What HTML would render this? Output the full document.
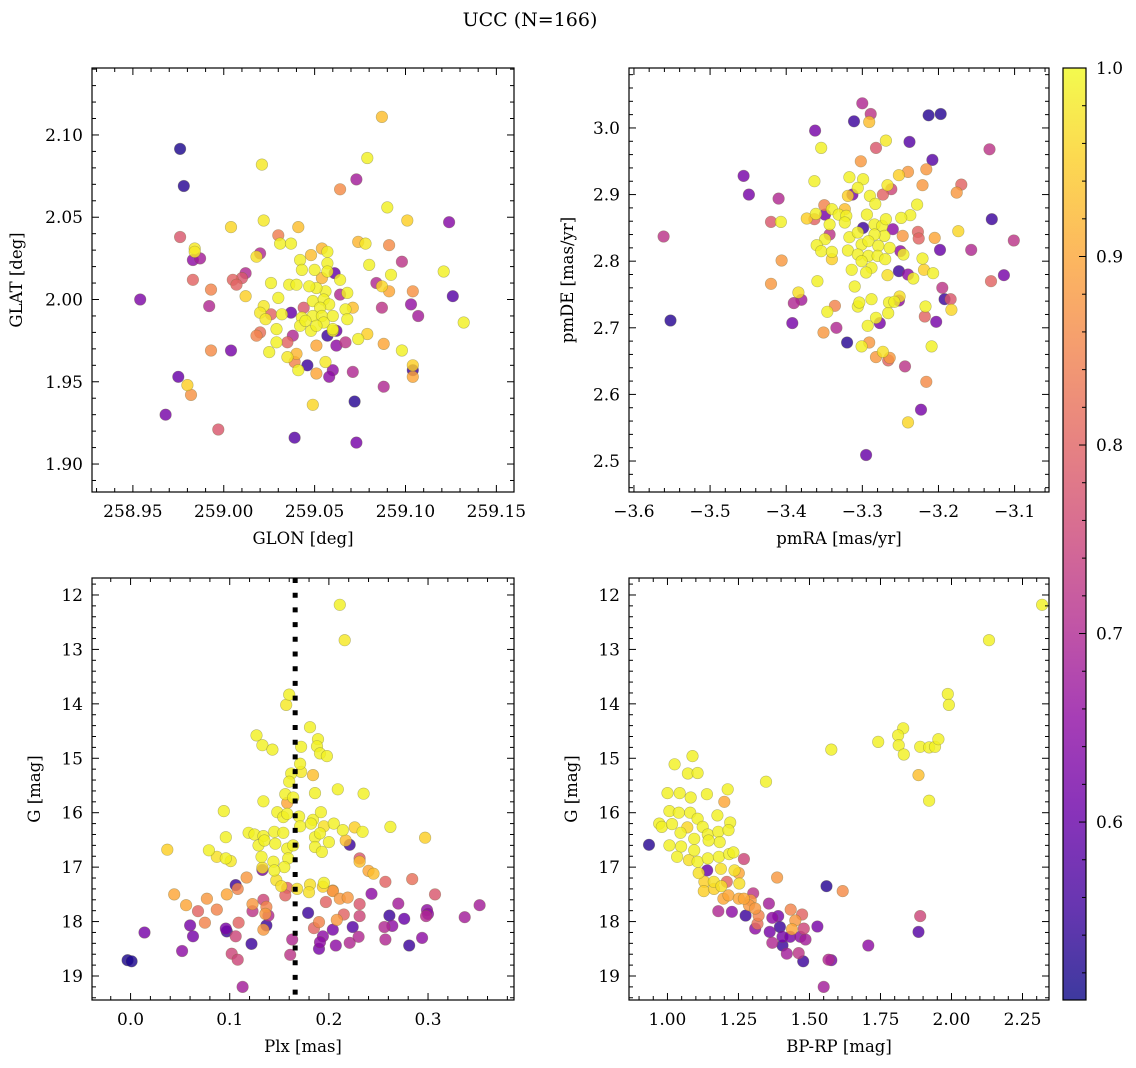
<!DOCTYPE html>
<html><head><meta charset="utf-8"><style>
html,body{margin:0;padding:0;background:#fff;}
svg{display:block;}
text{font-family:"DejaVu Serif","Liberation Serif",serif;fill:#000;}
</style></head><body>
<svg id="fig" xmlns="http://www.w3.org/2000/svg" width="1136" height="1068" viewBox="0 0 1136 1068">
<defs>
<linearGradient id="cbgrad" x1="0" y1="1" x2="0" y2="0">
<stop offset="0" stop-color="#0d0887"/><stop offset="0.1" stop-color="#41049d"/><stop offset="0.2" stop-color="#6a00a8"/><stop offset="0.3" stop-color="#8f0da4"/><stop offset="0.4" stop-color="#b12a90"/><stop offset="0.5" stop-color="#cc4778"/><stop offset="0.6" stop-color="#e16462"/><stop offset="0.7" stop-color="#f2844b"/><stop offset="0.8" stop-color="#fca636"/><stop offset="0.9" stop-color="#fcce25"/><stop offset="1" stop-color="#f0f921"/>
</linearGradient>
</defs>
<text x="530" y="26" text-anchor="middle" font-size="19">UCC (N=166)</text>
</svg>
<script>
// ---------- Panel 1: GLON / GLAT ----------
const glon1 = [259.087,258.976,258.978,259.021,259.079,259.073,259.064,259.090,259.101,259.124,259.004,259.022,259.041,258.976,259.030,259.031,259.037,259.074,259.078,259.091,258.984,258.984,258.983,258.987,259.020,259.018,259.098,259.121,259.080,259.092,258.983,259.005,259.007,259.012,259.010,258.993,259.012,259.026,259.030,259.036,259.040,258.954,258.992,259.084,259.087,259.091,259.104,259.126,259.132,259.087,259.103,259.107,259.022,259.020,259.026,259.023,259.032,259.037,259.044,259.043,259.029,259.018,259.020,259.029,259.025,259.035,259.038,259.042,259.048,259.040,259.035,259.039,259.041,259.046,259.051,259.051,259.057,259.062,259.060,259.062,259.067,259.074,259.079,259.088,259.098,259.056,259.060,259.058,259.071,259.088,259.104,259.104,259.104,258.975,258.980,258.982,258.993,259.004,258.968,258.997,259.039,259.049,259.072,259.073,259.042,259.048,259.054,259.057,259.057,259.057,259.050,259.043,259.054,259.061,259.064,259.068,259.064,259.056,259.051,259.047,259.049,259.055,259.058,259.053,259.049,259.054,259.060,259.067,259.071,259.068,259.060,259.055,259.051,259.045];
const glat1 = [2.111,2.0915,2.069,2.082,2.086,2.073,2.067,2.056,2.048,2.047,2.044,2.048,2.044,2.038,2.039,2.034,2.034,2.035,2.034,2.033,2.031,2.029,2.024,2.025,2.028,2.026,2.023,2.017,2.021,2.015,2.012,2.012,2.009,2.016,2.013,2.006,2.002,2.010,2.001,2.009,2.009,2.000,1.996,2.010,2.008,2.005,2.005,2.002,1.986,1.995,1.997,1.990,1.996,1.992,1.991,1.988,1.991,1.992,1.995,1.989,1.982,1.978,1.980,1.974,1.968,1.974,1.978,1.984,1.981,1.967,1.965,1.962,1.957,1.960,1.972,1.955,1.978,1.981,1.981,1.972,1.974,1.976,1.979,1.973,1.969,1.962,1.957,1.953,1.956,1.947,1.960,1.953,1.957,1.953,1.948,1.942,1.969,1.969,1.930,1.921,1.916,1.936,1.938,1.913,2.024,2.027,2.031,2.029,2.022,2.017,2.018,2.018,2.013,2.016,2.012,2.004,2.003,2.005,2.007,2.008,1.999,2.000,1.997,1.995,1.990,1.990,1.990,1.994,1.995,1.988,1.982,1.986,1.984,1.987];
const prob1 = [0.93,0.52,0.53,0.98,0.99,0.68,0.86,0.99,0.95,0.64,0.96,0.98,0.93,0.78,0.84,0.99,0.99,0.92,0.98,0.86,0.98,0.98,0.65,0.68,0.70,0.97,0.72,0.99,0.99,0.99,0.80,0.80,0.80,0.70,0.78,0.85,0.95,0.99,0.99,0.99,0.99,0.63,0.70,0.70,0.96,0.90,0.87,0.58,0.99,0.72,0.66,0.68,0.98,0.98,0.80,0.98,0.99,0.60,0.78,0.99,0.99,0.85,0.82,0.99,0.99,0.80,0.70,0.99,0.99,0.92,0.98,0.85,0.99,0.55,0.90,0.90,0.55,0.60,0.99,0.65,0.72,0.99,0.95,0.90,0.99,0.98,0.65,0.65,0.70,0.70,0.95,0.90,0.55,0.60,0.95,0.87,0.86,0.62,0.62,0.78,0.58,0.96,0.53,0.62,0.99,0.93,0.92,0.99,0.99,0.99,0.99,0.99,0.92,0.60,0.99,0.99,0.70,0.99,0.99,0.99,0.99,0.99,0.99,0.99,0.99,0.99,0.99,0.99,0.93,0.99,0.99,0.99,0.99,0.99];

// ---------- Panel 2: pmRA / pmDE ----------
const pmra2 = [-3.300,-3.289,-3.291,-3.311,-3.213,-3.197,-3.362,-3.354,-3.269,-3.282,-3.238,-3.133,-3.208,-3.302,-3.456,-3.449,-3.410,-3.363,-3.317,-3.299,-3.306,-3.319,-3.313,-3.290,-3.283,-3.267,-3.273,-3.262,-3.252,-3.240,-3.216,-3.221,-3.170,-3.176,-3.228,-3.237,-3.249,-3.130,-3.174,-3.101,-3.561,-3.420,-3.407,-3.373,-3.361,-3.363,-3.350,-3.340,-3.349,-3.331,-3.323,-3.321,-3.323,-3.343,-3.343,-3.349,-3.360,-3.354,-3.340,-3.340,-3.406,-3.420,-3.319,-3.317,-3.306,-3.299,-3.294,-3.284,-3.274,-3.269,-3.260,-3.271,-3.284,-3.301,-3.292,-3.279,-3.264,-3.306,-3.292,-3.280,-3.270,-3.301,-3.288,-3.314,-3.295,-3.250,-3.246,-3.247,-3.227,-3.226,-3.205,-3.198,-3.157,-3.221,-3.219,-3.207,-3.252,-3.240,-3.233,-3.267,-3.114,-3.131,-3.359,-3.310,-3.384,-3.390,-3.380,-3.336,-3.346,-3.306,-3.304,-3.288,-3.265,-3.258,-3.252,-3.251,-3.195,-3.192,-3.184,-3.183,-3.217,-3.218,-3.203,-3.266,-3.282,-3.277,-3.293,-3.392,-3.334,-3.351,-3.552,-3.320,-3.301,-3.291,-3.282,-3.273,-3.264,-3.266,-3.209,-3.244,-3.216,-3.223,-3.240,-3.295];
const pmde2 = [3.037,3.021,3.009,3.010,3.019,3.021,2.996,2.970,2.981,2.970,2.979,2.968,2.952,2.950,2.928,2.900,2.894,2.920,2.926,2.923,2.910,2.898,2.900,2.898,2.886,2.914,2.900,2.908,2.929,2.934,2.938,2.914,2.915,2.903,2.885,2.869,2.865,2.863,2.845,2.831,2.837,2.859,2.859,2.864,2.871,2.863,2.884,2.878,2.870,2.870,2.878,2.868,2.858,2.855,2.840,2.833,2.824,2.815,2.814,2.803,2.801,2.766,2.816,2.836,2.843,2.850,2.870,2.855,2.853,2.863,2.848,2.838,2.840,2.825,2.830,2.823,2.820,2.810,2.808,2.808,2.803,2.800,2.790,2.787,2.783,2.815,2.810,2.838,2.844,2.834,2.835,2.817,2.817,2.804,2.787,2.782,2.785,2.780,2.774,2.779,2.779,2.770,2.770,2.762,2.753,2.737,2.742,2.733,2.724,2.732,2.738,2.743,2.738,2.739,2.741,2.747,2.760,2.743,2.743,2.727,2.732,2.717,2.709,2.722,2.715,2.707,2.703,2.707,2.700,2.693,2.711,2.678,2.672,2.678,2.656,2.664,2.655,2.651,2.672,2.642,2.619,2.577,2.558,2.509];
const prob2 = [0.70,0.72,0.93,0.55,0.53,0.53,0.62,0.99,0.98,0.78,0.58,0.72,0.58,0.88,0.62,0.62,0.70,0.99,0.99,0.99,0.99,0.95,0.62,0.99,0.99,0.98,0.80,0.75,0.95,0.88,0.88,0.88,0.80,0.88,0.99,0.99,0.99,0.55,0.96,0.72,0.72,0.78,0.99,0.95,0.99,0.80,0.85,0.99,0.62,0.99,0.93,0.99,0.99,0.99,0.72,0.99,0.99,0.99,0.99,0.95,0.88,0.88,0.99,0.99,0.99,0.55,0.99,0.99,0.99,0.99,0.65,0.99,0.99,0.99,0.99,0.99,0.99,0.99,0.99,0.99,0.99,0.99,0.99,0.99,0.99,0.65,0.99,0.88,0.80,0.80,0.90,0.60,0.70,0.99,0.95,0.99,0.55,0.65,0.99,0.97,0.62,0.80,0.99,0.99,0.97,0.70,0.68,0.85,0.99,0.99,0.99,0.99,0.99,0.99,0.65,0.97,0.72,0.55,0.78,0.96,0.99,0.80,0.62,0.99,0.99,0.62,0.99,0.62,0.70,0.88,0.53,0.53,0.99,0.88,0.88,0.97,0.88,0.80,0.99,0.72,0.86,0.62,0.96,0.60];

// ---------- Panel 3: Plx / G ----------
const plx3 = [0.211,0.216,0.160,0.157,0.181,0.127,0.133,0.143,0.172,0.189,0.188,0.191,0.198,0.171,0.172,0.162,0.160,0.184,0.209,0.235,0.186,0.156,0.164,0.158,0.134,0.094,0.148,0.154,0.158,0.170,0.171,0.184,0.192,0.182,0.195,0.205,0.214,0.226,0.234,0.262,0.297,0.037,0.096,0.079,0.087,0.096,0.101,0.119,0.125,0.134,0.129,0.135,0.145,0.154,0.146,0.158,0.164,0.159,0.132,0.144,0.155,0.145,0.133,0.133,0.186,0.191,0.200,0.186,0.193,0.217,0.221,0.231,0.231,0.240,0.245,0.147,0.152,0.158,0.168,0.181,0.180,0.195,0.194,0.204,0.106,0.108,0.117,0.044,0.056,0.077,0.097,0.068,0.087,0.075,0.123,0.134,0.137,0.123,0.136,0.139,0.156,0.197,0.204,0.211,0.219,0.231,0.243,0.257,0.284,0.307,0.270,0.352,0.337,0.299,0.298,0.261,0.276,0.264,0.256,0.231,0.215,0.208,0.190,0.185,0.179,0.204,0.224,0.194,0.191,0.190,0.207,0.221,0.230,0.257,0.281,0.294,0.300,0.163,0.161,0.109,0.096,0.097,0.106,0.122,0.102,0.108,0.113,0.060,0.063,0.014,0.052,-0.003,0.001,0.137,0.134];
const gmag3 = [12.18,12.83,13.83,14.02,14.43,14.58,14.76,14.84,14.79,14.65,14.78,14.91,14.96,15.10,15.25,15.28,15.43,15.31,15.57,15.65,15.64,15.66,15.72,15.82,15.79,15.97,15.99,16.08,16.02,16.07,16.25,16.13,15.99,16.20,16.25,16.20,16.32,16.27,16.35,16.26,16.46,16.68,16.45,16.69,16.81,16.84,16.89,16.37,16.40,16.43,16.60,16.51,16.35,16.37,16.57,16.66,16.60,16.84,16.81,16.90,17.00,17.06,17.05,17.01,16.45,16.38,16.54,16.63,16.72,16.51,16.59,16.84,16.90,17.07,17.12,17.24,17.35,17.38,17.40,17.32,17.46,17.29,17.36,17.43,17.33,17.40,17.19,17.50,17.70,17.58,17.50,17.81,17.78,18.02,17.68,17.60,17.73,17.81,17.86,17.89,17.52,17.64,17.44,17.58,17.56,17.68,17.49,17.27,17.22,17.50,17.67,17.70,17.92,17.79,17.90,17.89,17.95,18.08,18.10,17.90,17.87,17.97,18.01,18.12,17.84,18.15,18.10,18.27,18.38,18.50,18.44,18.39,18.28,18.33,18.44,18.30,17.86,18.33,18.61,18.02,18.13,18.18,18.27,18.41,18.59,18.70,19.20,18.07,18.27,18.20,18.54,18.71,18.73,18.07,18.15];
const prob3 = [0.99,0.98,0.99,0.98,0.99,0.99,0.99,0.99,0.99,0.99,0.99,0.99,0.99,0.99,0.98,0.99,0.99,0.93,0.99,0.99,0.99,0.99,0.99,0.90,0.99,0.99,0.99,0.99,0.99,0.99,0.99,0.99,0.99,0.99,0.97,0.99,0.99,0.95,0.99,0.99,0.95,0.95,0.99,0.99,0.97,0.99,0.98,0.99,0.99,0.99,0.99,0.99,0.99,0.99,0.99,0.99,0.99,0.99,0.99,0.99,0.99,0.99,0.62,0.97,0.99,0.99,0.99,0.99,0.99,0.93,0.55,0.78,0.93,0.90,0.93,0.97,0.97,0.80,0.97,0.97,0.97,0.99,0.95,0.88,0.55,0.85,0.88,0.90,0.90,0.88,0.90,0.80,0.85,0.85,0.88,0.75,0.85,0.72,0.88,0.70,0.80,0.80,0.88,0.88,0.88,0.78,0.65,0.80,0.82,0.78,0.68,0.68,0.68,0.65,0.70,0.55,0.60,0.65,0.70,0.75,0.80,0.88,0.85,0.80,0.55,0.62,0.58,0.65,0.65,0.62,0.65,0.70,0.70,0.70,0.55,0.65,0.65,0.70,0.72,0.80,0.62,0.55,0.75,0.55,0.75,0.75,0.68,0.62,0.62,0.62,0.65,0.52,0.52,0.55,0.88];

// ---------- Panel 4: BP-RP / G ----------
const bprp4 = [2.319,2.132,1.987,1.991,1.830,1.812,1.814,1.832,1.742,1.890,1.921,1.942,1.954,1.884,1.921,1.577,1.347,1.088,1.025,1.072,1.106,1.000,1.043,1.082,1.139,1.212,1.200,1.176,1.007,1.040,1.080,1.106,0.971,0.980,1.016,1.046,1.070,1.124,1.142,1.179,1.221,1.215,1.184,1.145,1.094,1.007,1.048,1.094,1.034,1.076,1.106,1.142,1.181,1.217,1.232,0.935,1.269,1.140,1.110,1.188,1.236,1.251,1.130,1.163,1.190,1.209,1.253,1.128,1.164,1.386,1.560,1.617,1.197,1.215,1.251,1.269,1.302,1.293,1.287,1.309,1.321,1.317,1.179,1.227,1.275,1.309,1.357,1.369,1.390,1.396,1.360,1.369,1.405,1.405,1.420,1.434,1.474,1.450,1.438,1.480,1.468,1.432,1.486,1.462,1.478,1.528,1.567,1.577,1.550,1.707,1.890,1.884];
const gmag4 = [12.18,12.83,13.82,14.02,14.45,14.58,14.76,14.93,14.70,14.79,14.80,14.79,14.65,15.31,15.78,14.84,15.43,14.96,15.11,15.28,15.27,15.64,15.64,15.72,15.66,15.57,15.80,16.05,15.97,16.00,16.00,16.11,16.20,16.26,16.21,16.37,16.27,16.26,16.40,16.35,16.18,16.32,16.54,16.51,16.48,16.60,16.62,16.69,16.81,16.87,16.90,16.84,16.81,16.76,16.73,16.59,16.85,17.06,17.11,17.03,17.06,17.11,17.27,17.27,17.35,17.27,17.30,17.44,17.40,17.19,17.35,17.44,17.58,17.52,17.58,17.58,17.48,17.61,17.70,17.76,17.89,18.04,17.81,17.82,17.89,18.13,17.67,17.93,17.90,18.10,18.19,18.39,18.28,18.44,18.59,17.78,17.87,17.98,18.14,18.13,18.28,18.28,18.33,18.58,18.73,18.09,18.70,18.71,19.20,18.44,17.90,18.19];
const prob4 = [0.99,0.99,0.99,0.99,0.99,0.99,0.99,0.99,0.99,0.99,0.99,0.99,0.99,0.93,0.99,0.99,0.99,0.99,0.99,0.99,0.99,0.99,0.99,0.99,0.99,0.99,0.90,0.99,0.99,0.99,0.99,0.99,0.99,0.99,0.99,0.99,0.96,0.99,0.99,0.99,0.99,0.99,0.99,0.99,0.99,0.99,0.99,0.99,0.99,0.97,0.99,0.99,0.99,0.99,0.99,0.53,0.75,0.60,0.97,0.97,0.97,0.90,0.95,0.97,0.97,0.80,0.97,0.95,0.95,0.88,0.53,0.86,0.90,0.90,0.90,0.90,0.72,0.88,0.88,0.88,0.85,0.82,0.70,0.65,0.55,0.65,0.68,0.65,0.62,0.55,0.62,0.70,0.62,0.55,0.68,0.85,0.80,0.88,0.90,0.75,0.65,0.62,0.68,0.72,0.55,0.62,0.70,0.62,0.68,0.65,0.75,0.58];

// ---------- shared config ----------
const plxRef = [0.166];
const cbTicks = [0.6, 0.7, 0.8, 0.9, 1.0];
const cbMin = 0.5056, cbMax = 1.0;

const NS = 'http://www.w3.org/2000/svg';
const svg = document.getElementById('fig');
const plasma = ['#0d0887','#41049d','#6a00a8','#8f0da4','#b12a90','#cc4778','#e16462','#f2844b','#fca636','#fcce25','#f0f921'];
function hex(h){return [parseInt(h.slice(1,3),16),parseInt(h.slice(3,5),16),parseInt(h.slice(5,7),16)];}
function cmap(p){
  let t=(p-cbMin)/(cbMax-cbMin); t=Math.max(0,Math.min(1,t));
  const f=t*10, i=Math.min(9,Math.floor(f)), r=f-i;
  const a=hex(plasma[i]), b=hex(plasma[i+1]);
  return 'rgb('+a.map((v,k)=>Math.round(v+(b[k]-v)*r)).join(',')+')';
}
function mk(tag, attrs, parent){
  const e=document.createElementNS(NS,tag);
  for(const k in attrs) e.setAttribute(k,attrs[k]);
  (parent||svg).appendChild(e); return e;
}
function fmt(v,d){return (v<0?'\u2212':'')+Math.abs(v).toFixed(d);}

function panel(o){
  const g=mk('g',{});
  
  
  const sx=v=>o.x0+(v-o.xmin)/(o.xmax-o.xmin)*(o.x1-o.x0);
  const syf = o.invert ? (v=>o.y0+(v-o.ymin)/(o.ymax-o.ymin)*(o.y1-o.y0)) : (v=>o.y1-(v-o.ymin)/(o.ymax-o.ymin)*(o.y1-o.y0));
  const idx=o.p.map((v,i)=>i).sort((a,b)=>o.p[a]-o.p[b]);
  const pg=mk('g',{},g);
  
  
  for(const i of idx){
    const c=mk('circle',{cx:sx(o.x[i]).toFixed(1),cy:syf(o.y[i]).toFixed(1),r:5.8,fill:cmap(o.p[i]),'fill-opacity':0.82,stroke:'#6b6b3a','stroke-opacity':0.45,'stroke-width':0.6},pg);
    
    
  }
  if(o.extra) o.extra(g,sx,syf);
  const fr=mk('rect',{x:o.x0,y:o.y0,width:o.x1-o.x0,height:o.y1-o.y0,fill:'none',stroke:'#000','stroke-width':1.2},g);
  
  
  const eps=1e-9;
  for(let v=Math.ceil(o.xmin/o.xminor-eps)*o.xminor; v<=o.xmax+eps; v+=o.xminor){
    const X=sx(v); const maj=Math.abs(v/o.xmajor-Math.round(v/o.xmajor))<1e-6; const L=maj?7:4;
    mk('line',{x1:X,x2:X,y1:o.y1,y2:o.y1-L,stroke:'#000','stroke-width':1},g);
    mk('line',{x1:X,x2:X,y1:o.y0,y2:o.y0+L,stroke:'#000','stroke-width':1},g);
    if(maj){const t=mk('text',{x:X,y:o.y1+25,'text-anchor':'middle','font-size':17},g);t.textContent=fmt(v,o.xdec);
      
      }
  }
  for(let v=Math.ceil(o.ymin/o.yminor-eps)*o.yminor; v<=o.ymax+eps; v+=o.yminor){
    const Y=syf(v); const maj=Math.abs(v/o.ymajor-Math.round(v/o.ymajor))<1e-6; const L=maj?7:4;
    mk('line',{x1:o.x0,x2:o.x0+L,y1:Y,y2:Y,stroke:'#000','stroke-width':1},g);
    mk('line',{x1:o.x1,x2:o.x1-L,y1:Y,y2:Y,stroke:'#000','stroke-width':1},g);
    if(maj){const t=mk('text',{x:o.x0-9,y:Y+6,'text-anchor':'end','font-size':17},g);t.textContent=fmt(v,o.ydec);
      
      }
  }
  const xl=mk('text',{x:(o.x0+o.x1)/2,y:o.y1+52,'text-anchor':'middle','font-size':16.5},g);xl.textContent=o.xlabel;
  
  
  const cy=(o.y0+o.y1)/2, cx=o.ylx;
  const yl=mk('text',{x:cx,y:cy,'text-anchor':'middle','font-size':16.5,transform:'rotate(-90 '+cx+' '+cy+')'},g);yl.textContent=o.ylabel;
  
  
}

panel({name:'glon-glat-panel',x:glon1,y:glat1,p:prob1,x0:92,x1:514,y0:68,y1:492,xmin:258.9275,xmax:259.1597,ymin:1.883,ymax:2.1407,
  xmajor:0.05,xminor:0.01,ymajor:0.05,yminor:0.01,xdec:2,ydec:2,xlabel:'GLON [deg]',ylabel:'GLAT [deg]',ylx:22});
panel({name:'pm-panel',x:pmra2,y:pmde2,p:prob2,x0:629,x1:1049,y0:68,y1:492,xmin:-3.6065,xmax:-3.0548,ymin:2.4535,ymax:3.090,
  xmajor:0.1,xminor:0.02,ymajor:0.1,yminor:0.02,xdec:1,ydec:1,xlabel:'pmRA [mas/yr]',ylabel:'pmDE [mas/yr]',ylx:573});
panel({name:'plx-g-panel',x:plx3,y:gmag3,p:prob3,x0:92,x1:514,y0:578,y1:1000,xmin:-0.0389,xmax:0.3867,ymin:11.688,ymax:19.441,invert:true,
  xmajor:0.1,xminor:0.02,ymajor:1,yminor:0.2,xdec:1,ydec:0,xlabel:'Plx [mas]',ylabel:'G [mag]',ylx:40,
  extra:(g,sx,sy)=>{const X=sx(plxRef[0]);const l=mk('line',{x1:X,x2:X,y1:578,y2:1000,stroke:'#000','stroke-width':5,'stroke-dasharray':'5 9.7'},g);
    
    }});
panel({name:'cmd-panel',x:bprp4,y:gmag4,p:prob4,x0:629,x1:1049,y0:578,y1:1000,xmin:0.8646,xmax:2.3433,ymin:11.688,ymax:19.441,invert:true,
  xmajor:0.25,xminor:0.05,ymajor:1,yminor:0.2,xdec:2,ydec:0,xlabel:'BP-RP [mag]',ylabel:'G [mag]',ylx:577});

// colorbar
const cb=mk('g',{});


const cbx0=1063,cbx1=1086,cby0=68,cby1=1000;
mk('rect',{x:cbx0,y:cby0,width:cbx1-cbx0,height:cby1-cby0,fill:'url(#cbgrad)','fill-opacity':0.8},cb);
mk('rect',{x:cbx0,y:cby0,width:cbx1-cbx0,height:cby1-cby0,fill:'none',stroke:'#000','stroke-width':1.2},cb);
const cbY=v=>cby1-(v-cbMin)/(cbMax-cbMin)*(cby1-cby0);
for(let v=0.52; v<=1.0001; v+=0.02){
  const Y=cbY(v); const maj=Math.abs(v*10-Math.round(v*10))<1e-6;
  mk('line',{x1:cbx1,x2:cbx1-(maj?7:4),y1:Y,y2:Y,stroke:'#000','stroke-width':1},cb);
}
for(const v of cbTicks){
  const t=mk('text',{x:cbx1+10,y:cbY(v)+6,'font-size':17},cb);t.textContent=v.toFixed(1);
  
  
}
</script>
</body></html>
